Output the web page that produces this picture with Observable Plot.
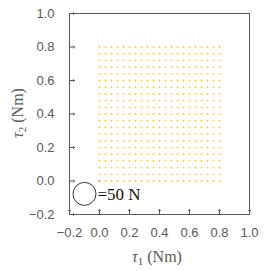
<!DOCTYPE html>
<html><head><meta charset="utf-8">
<script src="https://cdn.jsdelivr.net/npm/d3@7"></script>
<script src="https://cdn.jsdelivr.net/npm/@observablehq/plot@0.6"></script>
<style>body{margin:0;background:#fff}</style>
</head><body><div id="chart"></div>
<script>
const tau1 = [0,0.04,0.08,0.12,0.16,0.2,0.24,0.28,0.32,0.36,0.4,0.44,0.48,0.52,0.56,0.6,0.64,0.68,0.72,0.76,0.8];
const tau2 = [0,0.04,0.08,0.12,0.16,0.2,0.24,0.28,0.32,0.36,0.4,0.44,0.48,0.52,0.56,0.6,0.64,0.68,0.72,0.76,0.8];
const gridForce = 4;       // N, approx. size of each tiny circle
const originForce = 5.5;   // N
const legendForce = 50;    // N
const ticks = [-0.2,0,0.2,0.4,0.6,0.8,1.0];

const pts = [];
for (const a of tau1) for (const b of tau2) {
  const o = a === 0 && b === 0;
  pts.push({t1: a, t2: b, f: o ? originForce : gridForce, c: o ? "#f6a47e" : "#ffc72c"});
}
pts.sort((p, q) => (p.f === originForce) - (q.f === originForce));
const legend = [{t1: -0.1, t2: -0.077, f: legendForce}];

const fmt = d => (d < 0 ? "\u2212" : "") + Math.abs(d).toFixed(1);
const gray = "#595959";

const chart = Plot.plot({
  width: 267, height: 271,
  marginLeft: 69, marginRight: 18, marginTop: 13, marginBottom: 57,
  style: {fontFamily: "Liberation Sans, Arial, sans-serif", fontSize: "13px", color: gray, background: "#fff"},
  x: {domain: [-0.2, 1.0]},
  y: {domain: [-0.2, 1.0]},
  r: {type: "linear", domain: [0, 50], range: [0, 11.5]},
  marks: [
    Plot.frame({stroke: gray, strokeWidth: 1}),
    Plot.axisX(ticks, {tickSize: 0, tickPadding: 13, tickFormat: fmt, label: null, fill: gray}),
    Plot.axisY(ticks, {tickSize: 0, tickPadding: 15, tickFormat: fmt, label: null, fill: gray}),
    Plot.vector(ticks, {x: d => d, frameAnchor: "bottom", length: 5, rotate: 0, anchor: "start", stroke: gray, strokeWidth: 1}),
    Plot.vector(ticks, {y: d => d, frameAnchor: "left", length: 5, rotate: 90, anchor: "start", stroke: gray, strokeWidth: 1}),
    Plot.dot(pts, {x: "t1", y: "t2", r: "f", fill: "c", stroke: null}),
    Plot.dot(legend, {x: "t1", y: "t2", r: "f", fill: "none", stroke: "#333", strokeWidth: 1}),
    Plot.text(legend, {x: "t1", y: "t2", text: d => "=" + d.f + " N", textAnchor: "start", dx: 13, dy: 1, fill: "#111", fontSize: 17, fontFamily: "Liberation Serif, DejaVu Serif, serif"})
  ]
});
document.getElementById("chart").appendChild(chart);

const svg = d3.select(chart);
const serif = "Liberation Serif, DejaVu Serif, serif";
const xl = svg.append("text").attr("x", 157).attr("y", 262).attr("text-anchor", "middle")
  .attr("font-family", serif).attr("font-size", 16).attr("fill", gray);
xl.append("tspan").attr("font-style", "italic").text("τ");
xl.append("tspan").attr("font-size", 11).attr("dy", 3).text("1");
xl.append("tspan").attr("dy", -3).text(" (Nm)");
const yl = svg.append("text").attr("transform", "translate(23,113) rotate(-90)").attr("text-anchor", "middle")
  .attr("font-family", serif).attr("font-size", 16).attr("fill", gray);
yl.append("tspan").attr("font-style", "italic").text("τ");
yl.append("tspan").attr("font-size", 11).attr("dy", 3).text("2");
yl.append("tspan").attr("dy", -3).text(" (Nm)");
</script></body></html>
